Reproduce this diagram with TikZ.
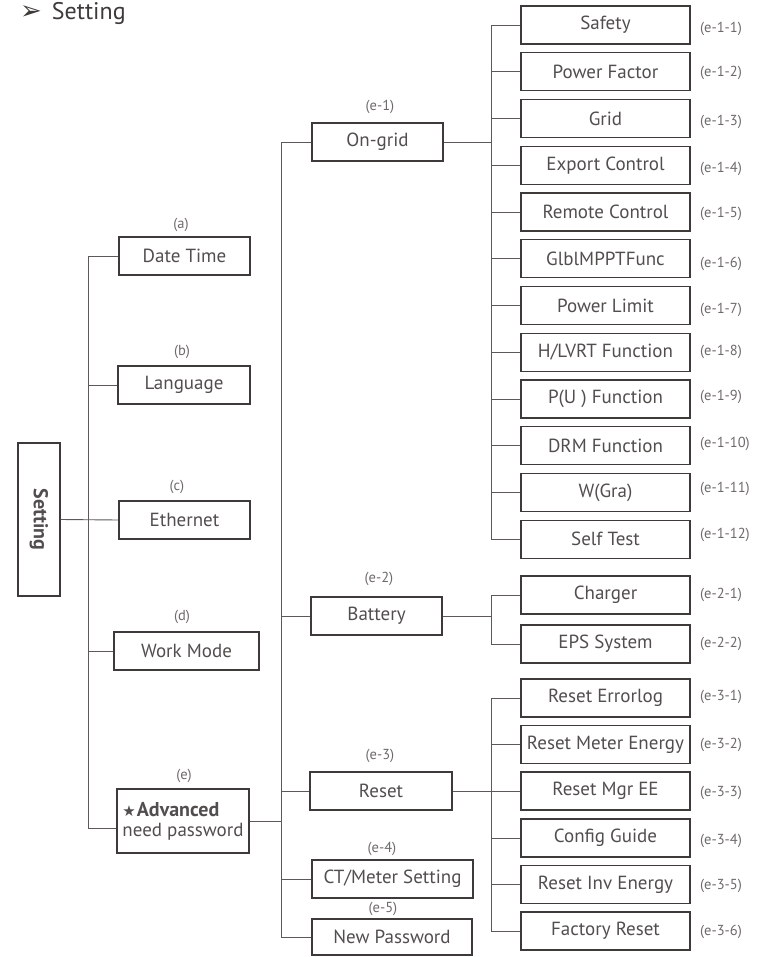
\documentclass[tikz,border=0pt]{standalone}
\usepackage{fontspec}
\setmainfont{PT Sans}
\newfontfamily\symfont{DejaVu Sans}
\usepackage{xcolor}
\usetikzlibrary{positioning, calc}
\definecolor{inkgray}{HTML}{3E3A39}
\definecolor{wiregray}{HTML}{5C5958}
\definecolor{tagtext}{HTML}{6E6A69}
\begin{document}
\begin{tikzpicture}[x=1pt, y=-1pt,
  box/.style={draw=inkgray, line width=1.1pt, minimum height=38, inner sep=1pt, text=inkgray!90, font=\fontsize{19}{22}\selectfont},
  rbox/.style={box, minimum width=169},
  tag/.style={text=tagtext, inner sep=0pt, font=\fontsize{14.5}{16}\selectfont},
  wire/.style={draw=wiregray, line width=0.9pt}
]
\useasboundingbox (0,0) rectangle (769,957);
\node[anchor=base west, text=inkgray, inner sep=0pt, font=\fontsize{24}{26}\selectfont] (title) at (20,20) {{\symfont\fontsize{26}{26}\selectfont ➢}\hspace{10pt}Setting};
% root and first column
\node[box, rotate=-90, minimum width=153, minimum height=42, font=\fontsize{20}{22}\selectfont\bfseries] at (39,519.5) (root) {Setting};
\node[box, minimum width=131] at (184.5,256) (datetime) {Date Time};
\node[box, minimum width=132] at (184,385) (language) {Language};
\node[box, minimum width=131] at (184.5,520) (ethernet) {Ethernet};
\node[box, minimum width=145] at (186.5,651) (workmode) {Work Mode};
\node[box, minimum width=132, minimum height=64, align=left] at (183,821) (advanced) {{\symfont\fontsize{15}{15}\selectfont ★}\kern1pt{\fontsize{20}{22}\selectfont\bfseries Advanced}\\[-2pt]need password};
\node[tag] at (181,225) (taga) {(a)};
\node[tag] at (182,352) (tagb) {(b)};
\node[tag] at (177,487) (tagc) {(c)};
\node[tag] at (182,617) (tagd) {(d)};
\node[tag] at (184,776) (tage) {(e)};
% second column
\node[box, minimum width=131] at (377.5,142) (ongrid) {On-grid};
\node[box, minimum width=131] at (376.5,616) (battery) {Battery};
\node[box, minimum width=142] at (381,791) (reset) {Reset};
\node[box, minimum width=161] at (392.5,879) (ctmeter) {CT/Meter Setting};
\node[box, minimum width=160, minimum height=36] at (392,937) (newpass) {New Password};
\node[tag] at (380,107) (tage1) {(e-1)};
\node[tag] at (379,579) (tage2) {(e-2)};
\node[tag] at (380,756) (tage3) {(e-3)};
\node[tag] at (382,849) (tage4) {(e-4)};
\node[tag] at (383,909) (tage5) {(e-5)};
% third column, on-grid
\node[rbox] at (605.5,25) (safety) {Safety};
\node[rbox] at (605.5,71.75) (pfactor) {Power Factor};
\node[rbox] at (605.5,118.5) (grid) {Grid};
\node[rbox] at (605.5,165.25) (export) {Export Control};
\node[rbox] at (605.5,212) (remote) {Remote Control};
\node[rbox] at (605.5,258.75) (mppt) {GlblMPPTFunc};
\node[rbox] at (605.5,305.5) (plimit) {Power Limit};
\node[rbox] at (605.5,352.25) (lvrt) {H/LVRT Function};
\node[rbox] at (605.5,399) (pu) {P(U ) Function};
\node[rbox] at (605.5,445.75) (drm) {DRM Function};
\node[rbox] at (605.5,492.5) (wgra) {W(Gra)};
\node[rbox] at (605.5,539.25) (selftest) {Self Test};
% third column, battery
\node[rbox] at (605.5,595) (charger) {Charger};
\node[rbox] at (605.5,644) (eps) {EPS System};
% third column, reset
\node[rbox] at (605.5,698) (errlog) {Reset Errorlog};
\node[rbox] at (605.5,744.5) (meteren) {Reset Meter Energy};
\node[rbox] at (605.5,791) (mgree) {Reset Mgr EE};
\node[rbox] at (605.5,838) (config) {Config Guide};
\node[rbox] at (605.5,884.5) (inven) {Reset Inv Energy};
\node[rbox] at (605.5,931) (factory) {Factory Reset};
% right tags
\node[tag, anchor=west] at (700,29) (t111) {(e-1-1)};
\node[tag, anchor=west] at (700,73) (t112) {(e-1-2)};
\node[tag, anchor=west] at (700,122) (t113) {(e-1-3)};
\node[tag, anchor=west] at (700,169) (t114) {(e-1-4)};
\node[tag, anchor=west] at (700,214) (t115) {(e-1-5)};
\node[tag, anchor=west] at (700,264) (t116) {(e-1-6)};
\node[tag, anchor=west] at (700,310) (t117) {(e-1-7)};
\node[tag, anchor=west] at (700,352) (t118) {(e-1-8)};
\node[tag, anchor=west] at (700,397) (t119) {(e-1-9)};
\node[tag, anchor=west] at (700,444) (t1110) {(e-1-10)};
\node[tag, anchor=west] at (700,489) (t1111) {(e-1-11)};
\node[tag, anchor=west] at (700,535) (t1112) {(e-1-12)};
\node[tag, anchor=west] at (700,595) (t121) {(e-2-1)};
\node[tag, anchor=west] at (700,644) (t122) {(e-2-2)};
\node[tag, anchor=west] at (700,697) (t131) {(e-3-1)};
\node[tag, anchor=west] at (700,745) (t132) {(e-3-2)};
\node[tag, anchor=west] at (700,793) (t133) {(e-3-3)};
\node[tag, anchor=west] at (700,841) (t134) {(e-3-4)};
\node[tag, anchor=west] at (700,886) (t135) {(e-3-5)};
\node[tag, anchor=west] at (700,932) (t136) {(e-3-6)};
% trunks
\coordinate (tr1) at (88,0);
\coordinate (tr2) at (281,0);
\coordinate (tr3) at (491,0);
\coordinate (advin) at ($(advanced.west)+(0,7)$);
\draw[wire] (root.north) -- (ethernet.west);
\draw[wire] (datetime.west) -- (datetime.west -| tr1) -- (advin -| tr1) -- (advin);
\draw[wire] (tr1 |- language.west) -- (language.west);
\draw[wire] (tr1 |- workmode.west) -- (workmode.west);
\draw[wire] (advanced.east) -- (advanced.east -| tr2);
\draw[wire] (ongrid.west) -- (ongrid.west -| tr2) -- (newpass.west -| tr2) -- (newpass.west);
\draw[wire] (tr2 |- battery.west) -- (battery.west);
\draw[wire] (tr2 |- reset.west) -- (reset.west);
\draw[wire] (tr2 |- ctmeter.west) -- (ctmeter.west);
\draw[wire] (ongrid.east) -- (ongrid.east -| tr3);
\draw[wire] (safety.west) -- (safety.west -| tr3) -- (selftest.west -| tr3) -- (selftest.west);
\draw[wire] (tr3 |- pfactor.west) -- (pfactor.west);
\draw[wire] (tr3 |- grid.west) -- (grid.west);
\draw[wire] (tr3 |- export.west) -- (export.west);
\draw[wire] (tr3 |- remote.west) -- (remote.west);
\draw[wire] (tr3 |- mppt.west) -- (mppt.west);
\draw[wire] (tr3 |- plimit.west) -- (plimit.west);
\draw[wire] (tr3 |- lvrt.west) -- (lvrt.west);
\draw[wire] (tr3 |- pu.west) -- (pu.west);
\draw[wire] (tr3 |- drm.west) -- (drm.west);
\draw[wire] (tr3 |- wgra.west) -- (wgra.west);
\draw[wire] (battery.east) -- (battery.east -| tr3);
\draw[wire] (charger.west) -- (charger.west -| tr3) -- (eps.west -| tr3) -- (eps.west);
\draw[wire] (reset.east) -- (mgree.west);
\draw[wire] (errlog.west) -- (errlog.west -| tr3) -- (factory.west -| tr3) -- (factory.west);
\draw[wire] (tr3 |- meteren.west) -- (meteren.west);
\draw[wire] (tr3 |- config.west) -- (config.west);
\draw[wire] (tr3 |- inven.west) -- (inven.west);
\end{tikzpicture}
\end{document}
